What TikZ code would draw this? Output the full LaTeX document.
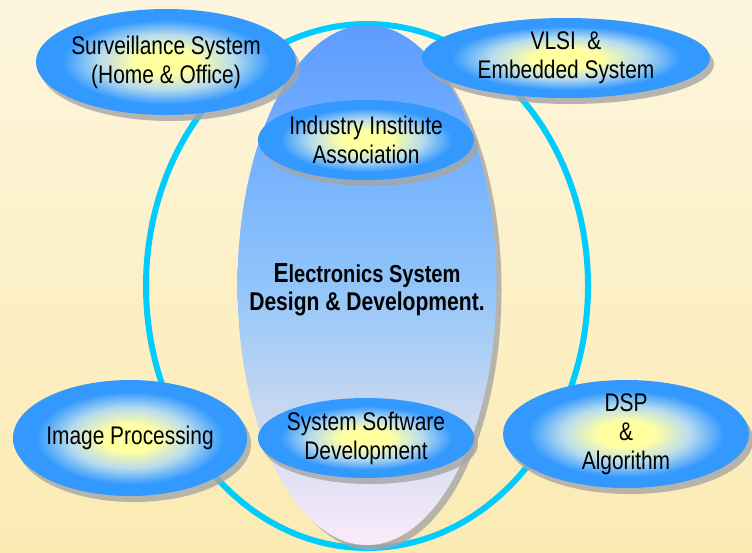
\documentclass[tikz,border=0pt]{standalone}
\usepackage{fontspec}
\setmainfont{Liberation Sans}[FakeStretch=0.82]
\usetikzlibrary{shapes.geometric,shadows}
\definecolor{bgtop}{RGB}{253,246,222}
\definecolor{bgbot}{RGB}{251,234,178}
\definecolor{ringc}{RGB}{0,204,255}
\definecolor{shadowgray}{RGB}{165,165,165}
\pgfdeclareradialshading{satshade}{\pgfpoint{0bp}{0bp}}{rgb(0bp)=(1,1,0.6); rgb(6bp)=(1,1,0.64); rgb(13bp)=(0.72,0.86,0.93); rgb(20bp)=(0.2,0.6,1); rgb(50bp)=(0.2,0.6,1)}
\pgfdeclareverticalshading{centshade}{100bp}{rgb(0bp)=(0.98,0.92,0.98); rgb(25bp)=(0.98,0.92,0.98); rgb(37bp)=(0.8,0.85,0.94); rgb(50.5bp)=(0.56,0.77,0.98); rgb(63bp)=(0.45,0.69,1); rgb(75bp)=(0.37,0.61,1); rgb(100bp)=(0.37,0.61,1)}
\begin{document}
\begin{tikzpicture}[x=1pt,y=-1pt,
  txt/.style={font=\fontsize{25.5}{29}\selectfont, align=center, inner sep=0pt, text=black},
  ctxt/.style={font=\bfseries, align=center, inner sep=0pt, text=black},
  sat/.style={ellipse, inner sep=0pt, shading=satshade,
    drop shadow={shadow xshift=4pt, shadow yshift=-6pt, fill=shadowgray, opacity=0.8}},
  centre/.style={ellipse, inner sep=0pt, shading=centshade,
    drop shadow={shadow xshift=5pt, shadow yshift=-5pt, fill=shadowgray, opacity=0.8}},
  ringstyle/.style={ellipse, inner sep=0pt, draw=ringc, line width=6pt}]
\fill[top color=bgtop, bottom color=bgbot] (0,0) rectangle (752,552);
\useasboundingbox (0,0) rectangle (752,552);
\node[ringstyle, minimum width=442pt, minimum height=524pt] (ring) at (367,286) {};
\node[centre, minimum width=259pt, minimum height=520pt] (core) at (367,285) {};
\node[ctxt] (coret) at (367,290) {\fontsize{24.5}{28}\selectfont{\fontsize{27.5}{28}\selectfont E}lectronics System\\[3pt]\fontsize{25.7}{28}\selectfont Design \& Development.};
\node[sat, minimum width=260pt, minimum height=106pt] (surv) at (166,62) {};
\node[sat, minimum width=288pt, minimum height=80pt] (vlsi) at (566,58) {};
\node[sat, minimum width=216pt, minimum height=80pt] (ind) at (366,140) {};
\node[sat, minimum width=234pt, minimum height=116pt] (img) at (130,438) {};
\node[sat, minimum width=216pt, minimum height=80pt] (ssd) at (366,438) {};
\node[sat, minimum width=246pt, minimum height=108pt] (dsp) at (626,434) {};
\node[txt] (survt) at (surv.center) {Surveillance System\\(Home \& Office)};
\node[txt] (vlsit) at (vlsi.center) {VLSI~~\&\\Embedded System};
\node[txt] (indt) at (ind.center) {Industry Institute\\Association};
\node[txt] (imgt) at (img.center) {Image Processing};
\node[txt] (ssdt) at (ssd.center) {System Software\\Development};
\node[txt] (dspt) at (dsp.center) {DSP\\\&\\Algorithm};
\end{tikzpicture}
\end{document}
